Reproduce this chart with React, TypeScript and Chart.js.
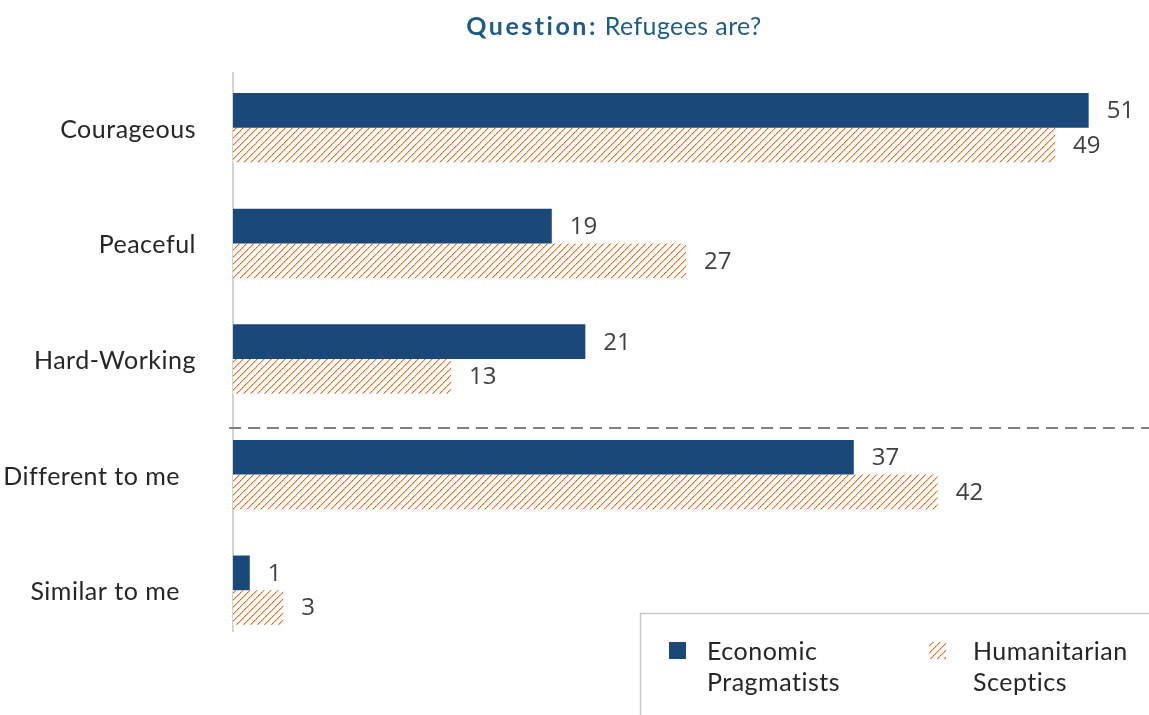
import React, { useEffect, useRef } from "react";
import { Chart, registerables } from "chart.js";

Chart.register(...registerables);

const categories = ["Courageous", "Peaceful", "Hard-Working", "Different to me", "Similar to me"];
const economicPragmatists = [51, 19, 21, 37, 1];
const humanitarianSceptics = [49, 27, 13, 42, 3];
const seriesNames = [["Economic", "Pragmatists"], ["Humanitarian", "Sceptics"]];
const titleBold = "Question:";
const titleRest = " Refugees are?";

const BLUE = "#1A4878";
const ORANGE = "#E2661A";
const LABEL_FONT = "Lato, 'Noto Sans', sans-serif";
const NUM_FONT = "'Open Sans', 'Noto Sans', sans-serif";

function makeHatch(): CanvasPattern | string {
  const n = 7;
  const c = document.createElement("canvas");
  c.width = n;
  c.height = n;
  const g = c.getContext("2d");
  if (!g) return ORANGE;
  g.fillStyle = "#ffffff";
  g.fillRect(0, 0, n, n);
  for (let i = 0; i < n; i++) {
    g.fillStyle = i % 2 === 0 ? ORANGE : "rgba(226,102,26,0.75)";
    g.fillRect(i, n - 1 - i, 1, 1);
    g.fillStyle = "rgba(226,102,26,0.4)";
    g.fillRect((i + 1) % n, n - 1 - i, 1, 1);
  }
  const p = g.createPattern(c, "repeat");
  return p || ORANGE;
}

export default function App() {
  const ref = useRef<HTMLCanvasElement>(null);
  useEffect(() => {
    if (!ref.current) return;
    const hatch = makeHatch();
    const decor = {
      id: "decor",
      beforeDatasetsDraw(chart: any) {
        const ctx = chart.ctx;
        const y = chart.scales.y;
        const area = chart.chartArea;
        ctx.save();
        ctx.strokeStyle = "#D4D4D4";
        ctx.lineWidth = 2;
        ctx.beginPath();
        ctx.moveTo(area.left, 72);
        ctx.lineTo(area.left, 632);
        ctx.stroke();
        const dy = Math.round(y.getPixelForValue(2.6));
        ctx.strokeStyle = "#808080";
        ctx.lineWidth = 2;
        ctx.setLineDash([12, 7]);
        ctx.beginPath();
        ctx.moveTo(area.left - 4, dy);
        ctx.lineTo(chart.width, dy);
        ctx.stroke();
        ctx.restore();
      },
      afterDatasetsDraw(chart: any) {
        const ctx = chart.ctx;
        const yS = chart.scales.y;
        ctx.save();
        // category labels
        ctx.font = `25px ${LABEL_FONT}`;
        (ctx as any).letterSpacing = "0.5px";
        ctx.fillStyle = "#262626";
        ctx.textAlign = "right";
        ctx.textBaseline = "middle";
        categories.forEach((c, i) => {
          const x = i >= 3 ? 180 : 196;
          ctx.fillText(c, x, yS.getPixelForValue(i) + 2);
        });
        // value labels
        (ctx as any).letterSpacing = "0px";
        ctx.font = `24px ${NUM_FONT}`;
        ctx.fillStyle = "#404040";
        ctx.textAlign = "left";
        chart.data.datasets.forEach((ds: any, di: number) => {
          const meta = chart.getDatasetMeta(di);
          meta.data.forEach((bar: any, i: number) => {
            ctx.fillText(String(ds.data[i]), bar.x + 18, bar.y + 1);
          });
        });
        // title
        ctx.textBaseline = "middle";
        ctx.font = `bold 25px ${LABEL_FONT}`;
        (ctx as any).letterSpacing = "2.5px";
        const w1 = ctx.measureText(titleBold).width;
        ctx.font = `25px ${LABEL_FONT}`;
        (ctx as any).letterSpacing = "0.4px";
        const w2 = ctx.measureText(titleRest).width;
        const tx = 614 - (w1 + w2) / 2;
        ctx.fillStyle = "#1F5C85";
        ctx.font = `bold 25px ${LABEL_FONT}`;
        (ctx as any).letterSpacing = "2.5px";
        ctx.fillText(titleBold, tx, 27);
        ctx.font = `25px ${LABEL_FONT}`;
        (ctx as any).letterSpacing = "0.4px";
        ctx.fillText(titleRest, tx + w1, 27);
        // legend box
        ctx.strokeStyle = "#C8C8C8";
        ctx.lineWidth = 1.5;
        ctx.strokeRect(640.5, 613.5, 600, 200);
        ctx.fillStyle = BLUE;
        ctx.fillRect(669, 642, 17, 17);
        ctx.fillStyle = hatch as any;
        ctx.fillRect(929, 642, 17, 17);
        ctx.font = `25px ${LABEL_FONT}`;
        (ctx as any).letterSpacing = "0.5px";
        ctx.fillStyle = "#262626";
        ctx.textAlign = "left";
        seriesNames[0].forEach((t, k) => ctx.fillText(t, 707, 652 + k * 31));
        seriesNames[1].forEach((t, k) => ctx.fillText(t, 973, 652 + k * 31));
        ctx.restore();
      },
    };
    const chart = new Chart(ref.current, {
      type: "bar",
      data: {
        labels: categories,
        datasets: [
          { label: seriesNames[0].join(" "), data: economicPragmatists, backgroundColor: BLUE, categoryPercentage: 0.6, barPercentage: 1 },
          { label: seriesNames[1].join(" "), data: humanitarianSceptics, backgroundColor: hatch as any, categoryPercentage: 0.6, barPercentage: 1 },
        ],
      },
      options: {
        indexAxis: "y",
        animation: false,
        responsive: false,
        maintainAspectRatio: false,
        layout: { padding: { left: 233, right: 10, top: 70, bottom: 67 } },
        plugins: { legend: { display: false }, title: { display: false }, tooltip: { enabled: false } },
        scales: {
          x: { display: false, min: 0, max: 54 },
          y: { display: false },
        },
      },
      plugins: [decor],
    });
    return () => chart.destroy();
  }, []);
  return (
    <div style={{ position: "fixed", left: 0, top: 0, width: 1149, height: 715, background: "#fff" }}>
      <canvas ref={ref} width={1149} height={715} style={{ width: 1149, height: 715, display: "block" }} />
    </div>
  );
}
